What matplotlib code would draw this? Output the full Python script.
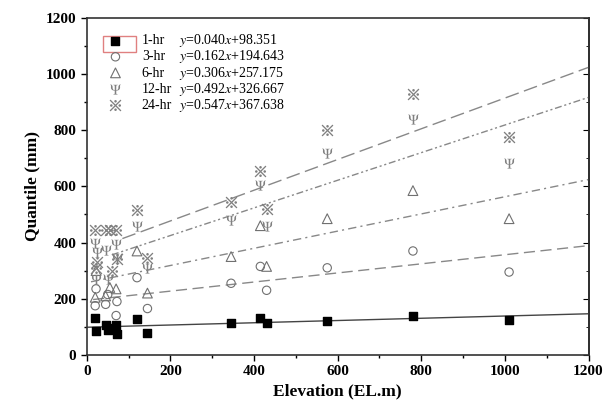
import matplotlib
matplotlib.use('Agg')
import matplotlib.pyplot as plt
from matplotlib.patches import Rectangle
from matplotlib.ticker import MultipleLocator

plt.rcParams['font.family'] = ['Liberation Serif', 'DejaVu Serif']
plt.rcParams['mathtext.fontset'] = 'stix'

# 1-hr
x1 = [20, 22, 45, 50, 55, 70, 72, 120, 145, 345, 415, 430, 575, 780, 1010]
y1 = [130, 85, 105, 90, 95, 108, 75, 128, 78, 112, 130, 115, 120, 138, 125]
# 3-hr
x3 = [20, 22, 45, 50, 70, 72, 120, 145, 345, 415, 430, 575, 780, 1010]
y3 = [175, 235, 180, 215, 140, 190, 275, 165, 255, 315, 230, 310, 370, 295]
# 6-hr
x6 = [20, 22, 45, 55, 70, 120, 145, 345, 415, 430, 575, 780, 1010]
y6 = [205, 300, 210, 240, 235, 370, 220, 350, 460, 315, 485, 585, 485]
# 12-hr
x12 = [20, 22, 25, 45, 50, 70, 72, 120, 145, 345, 415, 430, 575, 780, 1010]
y12 = [400, 270, 365, 375, 270, 395, 345, 460, 310, 480, 605, 460, 720, 840, 685]
# 24-hr
x24 = [20, 22, 25, 45, 55, 60, 70, 72, 120, 145, 345, 415, 430, 575, 780, 1010]
y24 = [445, 310, 330, 445, 445, 300, 445, 340, 516, 345, 545, 655, 520, 800, 930, 775]

labels = ['1-hr', '3-hr', '6-hr', '12-hr', '24-hr']
slopes = [0.040, 0.162, 0.306, 0.492, 0.547]
intercepts = [98.351, 194.643, 257.175, 326.667, 367.638]
fit_start = [0, 15, 10, 60, 85]

fig = plt.figure(figsize=(6.03, 4.17), dpi=100)
ax = fig.add_axes([0.144, 0.149, 0.832, 0.808])

gray = '#707070'
series = [(x1, y1), (x3, y3), (x6, y6), (x12, y12), (x24, y24)]
markers = ['s', 'o', '^', r'$\Psi$', '$※$']
sizes = [5.5, 6, 7, 7.5, 8.5]
styles = ['-', (0, (8, 4)), (0, (6, 3, 1.5, 3)), (0, (5, 2, 1.5, 2, 1.5, 2)), (0, (10, 4))]

handles = []
for (xs, ys), m, s, k, b, x0, ls in zip(series, markers, sizes, slopes, intercepts, fit_start, styles):
    if m == 's':
        h = ax.scatter(xs, ys, marker='s', s=s ** 2, c='black', zorder=3)
    elif m in ('o', '^'):
        h = ax.scatter(xs, ys, marker=m, s=s ** 2, facecolors='none', edgecolors=gray, linewidths=0.8, zorder=3)
    else:
        h = ax.scatter(xs, ys, marker=m, s=s ** 2, c='#808080', linewidths=0, zorder=3)
    handles.append(h)
    lc = '#444444' if ls == '-' else '#888888'
    ax.plot([x0, 1200], [k * x0 + b, k * 1200 + b], color=lc, linestyle=ls, linewidth=1.0, zorder=2)

leg = ax.legend(handles, labels, loc='upper left', frameon=False, fontsize=10,
                bbox_to_anchor=(0.01, 0.98), handletextpad=0.9, labelspacing=0.22,
                borderaxespad=0.3)

# fit equations aligned in a column beside the legend labels
fig.canvas.draw()
inv = ax.transAxes.inverted()
for t, k, b in zip(leg.get_texts(), slopes, intercepts):
    bb = t.get_window_extent()
    _, yc = inv.transform((0, (bb.y0 + bb.y1) / 2))
    ax.text(0.183, yc, "$y$=%.3f$x$+%.3f" % (k, b), transform=ax.transAxes,
            fontsize=10, va='center', ha='left')

ax.add_patch(Rectangle((0.033, 0.9), 0.066, 0.046, transform=ax.transAxes,
                       fill=False, edgecolor='#e08080', linewidth=1.0, zorder=5))

ax.set_xlim(0, 1200)
ax.set_ylim(0, 1200)
ax.xaxis.set_major_locator(MultipleLocator(200))
ax.xaxis.set_minor_locator(MultipleLocator(100))
ax.yaxis.set_major_locator(MultipleLocator(200))
ax.yaxis.set_minor_locator(MultipleLocator(100))
ax.tick_params(which='both', direction='out', top=False, right=False, labelsize=11, width=1)
ax.tick_params(which='major', length=4)
ax.tick_params(which='minor', length=2.5)
for lbl in ax.get_xticklabels() + ax.get_yticklabels():
    lbl.set_fontweight('bold')

ax2 = ax.secondary_yaxis('right')
ax2.yaxis.set_major_locator(MultipleLocator(200))
ax2.yaxis.set_minor_locator(MultipleLocator(100))
ax2.tick_params(which='both', direction='in', labelright=False)
ax2.tick_params(which='major', length=4)
ax2.tick_params(which='minor', length=2.5)

for sp in ax.spines.values():
    sp.set_linewidth(1.2)
    sp.set_color('#333333')
ax2.spines['right'].set_linewidth(1.2)

ax.set_xlabel('Elevation (EL.m)', fontsize=12.5, fontweight='bold')
ax.set_ylabel('Quantile (mm)', fontsize=12.5, fontweight='bold')

fig.savefig('out.png', dpi=100)
